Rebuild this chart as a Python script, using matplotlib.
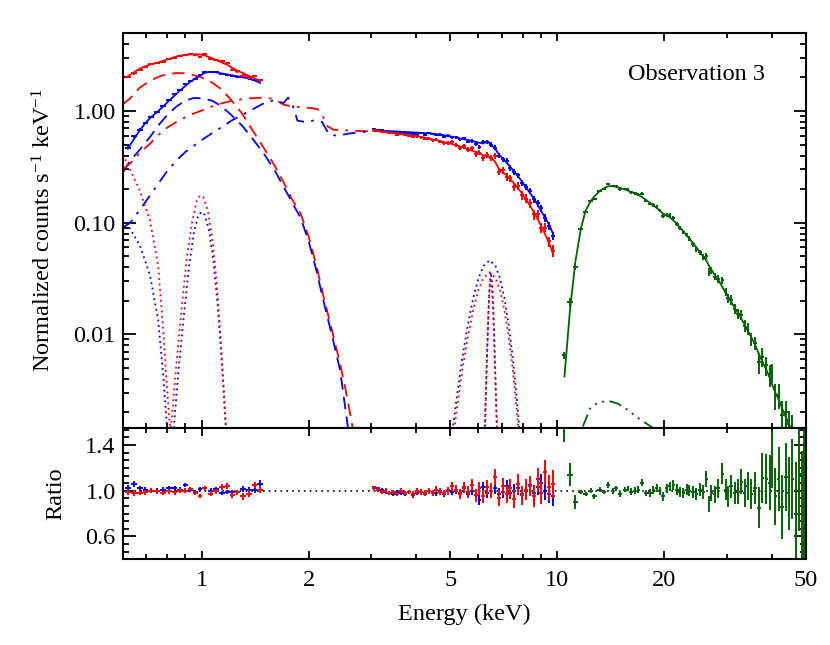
import numpy as np
import matplotlib
matplotlib.use("Agg")
import matplotlib.pyplot as plt
from matplotlib.ticker import FixedLocator, FixedFormatter, LogLocator, AutoMinorLocator, NullFormatter

plt.rcParams['font.family'] = ['Liberation Serif', 'DejaVu Serif']
plt.rcParams['mathtext.fontset'] = 'custom'
plt.rcParams['mathtext.rm'] = 'Liberation Serif'
plt.rcParams['mathtext.it'] = 'Liberation Serif:italic'

RED, BLUE, GREEN = '#ff0000', '#0000ff', '#006400'
FS = 17.5

# ---------------- data ----------------
# soft band (keV) shared by both soft-band instruments
e_soft = [0.62, 0.645, 0.67, 0.695, 0.72, 0.75, 0.78, 0.81, 0.84, 0.87, 0.90, 0.93, 0.96,
          0.99, 1.02, 1.06, 1.10, 1.14, 1.18, 1.22, 1.26, 1.31, 1.36, 1.41, 1.46]
red_model_soft = [2.05, 2.22, 2.40, 2.52, 2.62, 2.71, 2.82, 2.93, 3.05, 3.13, 3.19, 3.22, 3.23,
                  3.21, 3.15, 3.02, 2.86, 2.72, 2.60, 2.44, 2.30, 2.18, 2.06, 1.96, 1.87]
blue_model_soft = [0.46, 0.56, 0.67, 0.78, 0.88, 0.98, 1.10, 1.24, 1.38, 1.53, 1.68, 1.83, 1.96,
                   2.08, 2.20, 2.25, 2.22, 2.17, 2.13, 2.09, 2.05, 2.00, 1.95, 1.88, 1.79]
red_ratio_soft = [0.985, 0.98, 0.98, 0.985, 1.00, 0.995, 0.98, 0.995, 0.985, 1.00, 1.00, 1.015, 0.98,
                  0.955, 1.02, 0.975, 0.995, 1.03, 1.04, 0.965, 0.985, 0.95, 0.975, 1.05, 1.01]
blue_ratio_soft = [1.02, 1.06, 1.02, 1.01, 1.00, 1.00, 1.01, 1.02, 1.025, 1.01, 1.05, 1.01, 0.985,
                   1.015, 1.02, 1.00, 1.015, 0.98, 0.99, 0.985, 0.985, 1.015, 1.005, 1.01, 1.06]
red_err_soft = [0.025, 0.025, 0.02, 0.02, 0.02, 0.02, 0.02, 0.02, 0.02, 0.02, 0.02, 0.02, 0.02,
                0.02, 0.02, 0.02, 0.02, 0.025, 0.025, 0.025, 0.025, 0.03, 0.03, 0.03, 0.03]
blue_err_soft = [0.03, 0.025, 0.025, 0.02, 0.02, 0.02, 0.02, 0.02, 0.02, 0.02, 0.02, 0.02, 0.02,
                 0.02, 0.02, 0.02, 0.02, 0.02, 0.02, 0.025, 0.025, 0.025, 0.025, 0.03, 0.03]

# hard band 3-10 keV
e_hard = [3.05, 3.13, 3.21, 3.29, 3.37, 3.46, 3.55, 3.64, 3.73, 3.83,
          3.93, 4.03, 4.13, 4.24, 4.35, 4.46, 4.57, 4.69, 4.81, 4.93,
          5.06, 5.19, 5.32, 5.46, 5.60, 5.74, 5.89, 6.04, 6.19, 6.35,
          6.51, 6.68, 6.85, 7.02, 7.20, 7.38, 7.57, 7.76, 7.96, 8.16,
          8.37, 8.58, 8.80, 9.02, 9.25, 9.48, 9.72]
red_model_hard = [0.668, 0.663, 0.658, 0.652, 0.646, 0.639, 0.632, 0.625, 0.618, 0.610,
                  0.602, 0.594, 0.586, 0.577, 0.567, 0.557, 0.548, 0.538, 0.528, 0.517,
                  0.506, 0.495, 0.483, 0.470, 0.457, 0.444, 0.431, 0.417, 0.402, 0.390,
                  0.382, 0.352, 0.305, 0.285, 0.265, 0.245, 0.224, 0.203, 0.183, 0.163,
                  0.143, 0.125, 0.108, 0.092, 0.078, 0.066, 0.053]
blue_model_hard = [0.670, 0.668, 0.666, 0.664, 0.662, 0.659, 0.656, 0.653, 0.650, 0.647,
                   0.644, 0.641, 0.638, 0.635, 0.632, 0.628, 0.622, 0.615, 0.607, 0.598,
                   0.589, 0.580, 0.570, 0.560, 0.550, 0.540, 0.530, 0.520, 0.512, 0.540,
                   0.500, 0.460, 0.410, 0.375, 0.345, 0.315, 0.287, 0.260, 0.233, 0.208,
                   0.185, 0.166, 0.145, 0.126, 0.110, 0.096, 0.080]
red_ratio_hard = [1.02, 1.01, 0.99, 1.00, 0.98, 0.99, 0.97, 1.00, 0.98, 0.99,
                  0.97, 1.00, 0.99, 0.98, 1.00, 0.98, 1.01, 0.99, 0.98, 1.00,
                  1.04, 1.01, 0.97, 1.03, 0.99, 1.05, 0.96, 1.02, 0.95, 1.03,
                  1.00, 1.12, 0.94, 1.04, 0.97, 1.02, 0.93, 1.06, 0.96, 1.01,
                  1.04, 0.95, 1.10, 0.98, 1.16, 1.03, 1.06]
blue_ratio_hard = [1.03, 1.02, 1.01, 0.99, 0.98, 0.97, 0.99, 0.98, 0.97, 0.99,
                   0.96, 0.98, 0.99, 0.97, 1.00, 0.99, 0.98, 1.00, 0.97, 1.01,
                   0.99, 1.00, 0.98, 1.02, 0.97, 1.00, 0.96, 0.92, 1.03, 0.98,
                   1.00, 1.02, 0.97, 0.99, 1.04, 0.98, 1.00, 1.02, 0.97, 1.00,
                   1.05, 0.98, 1.03, 1.07, 1.00, 0.97, 0.95]
red_err_hard = [0.02, 0.02, 0.02, 0.02, 0.02, 0.02, 0.02, 0.02, 0.02, 0.02,
                0.025, 0.025, 0.025, 0.025, 0.025, 0.025, 0.03, 0.03, 0.03, 0.035,
                0.04, 0.04, 0.045, 0.05, 0.05, 0.055, 0.055, 0.06, 0.06, 0.065,
                0.065, 0.07, 0.07, 0.075, 0.075, 0.08, 0.08, 0.085, 0.085, 0.09,
                0.09, 0.095, 0.10, 0.10, 0.11, 0.11, 0.12]
blue_err_hard = [0.015, 0.015, 0.015, 0.015, 0.015, 0.015, 0.015, 0.015, 0.015, 0.015,
                 0.02, 0.02, 0.02, 0.02, 0.02, 0.02, 0.025, 0.025, 0.025, 0.025,
                 0.03, 0.03, 0.03, 0.035, 0.035, 0.04, 0.04, 0.045, 0.045, 0.045,
                 0.05, 0.05, 0.05, 0.05, 0.055, 0.055, 0.06, 0.06, 0.06, 0.065,
                 0.065, 0.07, 0.07, 0.075, 0.08, 0.08, 0.08]

# hard X-ray instrument
e_green = [10.47, 10.86, 11.24,
           11.64, 12.0, 12.4, 12.7, 13.15, 13.5, 13.9, 14.3, 14.6, 15.0,
           15.5, 15.8, 16.1, 16.5, 16.9, 17.3, 17.7, 18.2, 18.6, 19.0,
           19.4, 19.8, 20.3, 20.7, 21.2, 21.7, 22.1, 22.6, 23.1, 23.5,
           24.1, 24.6, 25.2, 25.7, 26.2, 26.7, 27.1, 27.7, 28.3, 29.1,
           29.7, 30.1, 30.8, 31.5, 32.2, 32.9, 33.6, 34.3, 35.1, 35.9,
           36.9, 37.7, 38.7, 39.5, 40.1, 41.0, 41.9, 42.8, 43.9, 44.7,
           45.8, 46.8, 47.9, 48.8, 49.5]
green_model = [0.0042, 0.017, 0.045,
               0.088, 0.128, 0.155, 0.172, 0.192, 0.203, 0.212, 0.213, 0.210, 0.205,
               0.198, 0.194, 0.189, 0.183, 0.177, 0.170, 0.161, 0.151, 0.143, 0.136,
               0.129, 0.121, 0.116, 0.112, 0.105, 0.097, 0.091, 0.084, 0.077, 0.072,
               0.065, 0.060, 0.054, 0.050, 0.046, 0.041, 0.038, 0.034, 0.031, 0.0265,
               0.0238, 0.0222, 0.0196, 0.0174, 0.0155, 0.0138, 0.0122, 0.0108, 0.0094, 0.0082,
               0.0066, 0.0057, 0.0048, 0.0041, 0.0036, 0.0030, 0.0026, 0.0022, 0.0018, 0.0016,
               0.0013, 0.0011, 0.0009, 0.0008, 0.0007]
green_ratio = [1.55, 1.14, 0.90,
               0.99, 0.97, 1.00, 0.95, 1.01, 0.99, 1.05, 1.00, 1.02, 0.97,
               1.01, 1.02, 0.99, 1.00, 1.01, 1.07, 0.98, 0.98, 1.01, 1.02,
               1.00, 0.95, 1.02, 1.04, 1.05, 1.01, 0.99, 0.98, 1.01, 1.00,
               0.99, 0.97, 1.01, 0.99, 1.10, 0.88, 0.98, 0.97, 1.02, 1.15,
               1.01, 0.95, 1.04, 0.98, 0.99, 1.08, 0.98, 1.04, 0.97, 1.02,
               0.85, 1.11, 1.10, 1.07, 1.27, 0.95, 1.10, 0.86, 1.12, 0.98,
               1.10, 0.80, 1.15, 0.75, 0.95]
green_err = [0.12, 0.10, 0.06,
             0.02, 0.02, 0.02, 0.02, 0.02, 0.02, 0.025, 0.025, 0.025, 0.025,
             0.025, 0.025, 0.03, 0.03, 0.03, 0.03, 0.03, 0.035, 0.035, 0.035,
             0.035, 0.04, 0.04, 0.04, 0.04, 0.045, 0.045, 0.045, 0.05, 0.05,
             0.05, 0.055, 0.055, 0.06, 0.07, 0.07, 0.07, 0.075, 0.08, 0.09,
             0.09, 0.09, 0.10, 0.10, 0.11, 0.11, 0.12, 0.12, 0.13, 0.14,
             0.18, 0.22, 0.22, 0.24, 0.25, 0.25, 0.28, 0.28, 0.30, 0.32,
             0.35, 0.45, 0.50, 0.60, 0.65]

# model components
e_bb_red = [0.60, 0.63, 0.67, 0.72, 0.76, 0.80, 0.85, 0.90, 0.95, 1.00, 1.07, 1.13, 1.20, 1.30,
            1.40, 1.50, 1.60, 1.70, 1.80, 1.90, 2.00, 2.10, 2.20, 2.34, 2.45, 2.55, 2.66]
bb_red = [1.15, 1.30, 1.62, 1.88, 2.04, 2.14, 2.19, 2.18, 2.10, 2.00, 1.80, 1.59, 1.30, 0.95,
          0.65, 0.46, 0.33, 0.23, 0.16, 0.12, 0.075, 0.042, 0.022, 0.010, 0.0055, 0.0030, 0.00145]
e_bb_blue = [0.60, 0.63, 0.67, 0.72, 0.76, 0.80, 0.85, 0.90, 0.95, 1.00, 1.07, 1.13, 1.20, 1.30,
             1.40, 1.50, 1.60, 1.70, 1.80, 1.90, 2.00, 2.10, 2.20, 2.34, 2.45, 2.58]
bb_blue = [0.28, 0.36, 0.45, 0.60, 0.76, 0.92, 1.10, 1.24, 1.31, 1.30, 1.24, 1.12, 0.95, 0.74,
           0.55, 0.41, 0.30, 0.21, 0.15, 0.11, 0.068, 0.038, 0.020, 0.009, 0.0048, 0.00145]

e_pl_red = [0.60, 0.63, 0.67, 0.72, 0.76, 0.80, 0.85, 0.90, 0.95, 1.00, 1.10, 1.22, 1.35, 1.50,
            1.60, 1.70, 1.80, 2.00, 2.12, 2.18, 2.26, 2.35, 2.60, 2.90, 3.10]
pl_red = [0.30, 0.34, 0.42, 0.52, 0.62, 0.71, 0.80, 0.88, 0.95, 1.01, 1.14, 1.24, 1.30, 1.32,
          1.28, 1.14, 1.10, 1.07, 1.04, 0.93, 0.73, 0.68, 0.67, 0.66, 0.66]
e_pl_blue = [0.60, 0.63, 0.67, 0.72, 0.76, 0.80, 0.85, 0.90, 1.00, 1.10, 1.22, 1.37, 1.50, 1.60,
             1.70, 1.75, 1.80, 1.86, 1.95, 2.10, 2.18, 2.28, 2.40, 2.60, 2.85, 3.10]
pl_blue = [0.09, 0.10, 0.13, 0.18, 0.23, 0.29, 0.36, 0.43, 0.55, 0.67, 0.83, 1.01, 1.18, 1.25,
           1.18, 1.32, 1.15, 0.82, 0.80, 0.83, 0.80, 0.62, 0.60, 0.63, 0.65, 0.67]

# emission lines (dotted)
e_l1_red = [0.61, 0.67, 0.716, 0.755, 0.78, 0.80, 0.815]
l1_red = [0.37, 0.195, 0.105, 0.041, 0.011, 0.0032, 0.00145]
e_l1_blue = [0.615, 0.67, 0.716, 0.755, 0.78, 0.80]
l1_blue = [0.10, 0.063, 0.034, 0.0134, 0.0043, 0.00145]
e_l2_red = [0.82, 0.85, 0.88, 0.91, 0.94, 0.97, 0.99, 1.01, 1.04, 1.07, 1.10, 1.13, 1.16, 1.17]
l2_red = [0.00145, 0.0055, 0.018, 0.050, 0.10, 0.16, 0.175, 0.17, 0.13, 0.075, 0.032, 0.010, 0.0025, 0.00145]
e_l2_blue = [0.835, 0.86, 0.89, 0.92, 0.95, 0.98, 1.00, 1.02, 1.05, 1.08, 1.11, 1.14, 1.17]
l2_blue = [0.00145, 0.0045, 0.014, 0.038, 0.080, 0.118, 0.125, 0.118, 0.085, 0.045, 0.018, 0.0055, 0.00145]
e_fe_broad = [5.05, 5.2, 5.4, 5.6, 5.8, 6.0, 6.2, 6.45, 6.7, 6.9, 7.1, 7.3, 7.5, 7.7, 7.85]
fe_broad_blue = [0.00123, 0.00256, 0.0060, 0.0121, 0.0211, 0.0317, 0.041, 0.046, 0.041, 0.0317,
                 0.0211, 0.0121, 0.0060, 0.00256, 0.00123]
fe_broad_red = [0.0009, 0.0020, 0.0047, 0.0094, 0.0165, 0.025, 0.032, 0.036, 0.032, 0.025,
                0.0165, 0.0094, 0.0047, 0.0020, 0.0009]
e_fe_narrow = [6.25, 6.30, 6.35, 6.40, 6.45, 6.50, 6.55, 6.60, 6.65, 6.70, 6.76]
fe_narrow_red = [0.00145, 0.0035, 0.0075, 0.016, 0.026, 0.032, 0.026, 0.016, 0.0075, 0.0035, 0.00145]
fe_narrow_blue = [0.0012, 0.0030, 0.0068, 0.015, 0.027, 0.036, 0.030, 0.019, 0.0090, 0.0040, 0.0016]

e_green_comp = [11.8, 12.35, 13.0, 13.9, 14.8, 15.6, 17.0, 18.6]
green_comp = [0.0015, 0.00216, 0.00245, 0.00254, 0.00240, 0.00216, 0.00175, 0.00145]

# ---------------- figure ----------------
fig = plt.figure(figsize=(8.3, 6.45), dpi=100)
ax1 = fig.add_axes([0.1478, 0.3364, 0.8233, 0.6124])
ax2 = fig.add_axes([0.1478, 0.1329, 0.8233, 0.2036], sharex=ax1)

lw = 1.3
dash = (0, (7, 4))
dashdot = (0, (7, 4, 1.5, 4))
dot = (0, (1, 2))
dashdot3 = (0, (7, 3, 1.2, 3, 1.2, 3, 1.2, 3))


def halfwidth(e):
    e = np.asarray(e)
    return np.gradient(e) / 2.0


def spectrum(ax, e, model, ratio, err, color):
    e = np.asarray(e)
    model = np.asarray(model)
    ratio = np.asarray(ratio)
    err = np.asarray(err)
    ax.errorbar(e, model * ratio, xerr=halfwidth(e), yerr=model * err, fmt='none',
                ecolor=color, elinewidth=1.4, capsize=0)
    ax.plot(e, model, color=color, lw=lw)


# model components
for e, v, c in [(e_bb_red, bb_red, RED), (e_bb_blue, bb_blue, BLUE)]:
    ax1.plot(e, v, color=c, lw=lw, ls=dash)
for e, v, c in [(e_pl_red, pl_red, RED), (e_pl_blue, pl_blue, BLUE)]:
    ax1.plot(e, v, color=c, lw=lw, ls=dashdot)
for e, v, c in [(e_l1_blue, l1_blue, BLUE), (e_l1_red, l1_red, RED),
                (e_l2_blue, l2_blue, BLUE), (e_l2_red, l2_red, RED),
                (e_fe_broad, fe_broad_blue, BLUE), (e_fe_broad, fe_broad_red, RED),
                (e_fe_narrow, fe_narrow_blue, BLUE), (e_fe_narrow, fe_narrow_red, RED)]:
    ax1.plot(e, v, color=c, lw=lw, ls=dot)
ax1.plot(e_green_comp, green_comp, color=GREEN, lw=lw, ls=dashdot3)

# data + total model
spectrum(ax1, e_soft, blue_model_soft, blue_ratio_soft, blue_err_soft, BLUE)
spectrum(ax1, e_soft, red_model_soft, red_ratio_soft, red_err_soft, RED)
spectrum(ax1, e_hard, blue_model_hard, blue_ratio_hard, blue_err_hard, BLUE)
spectrum(ax1, e_hard, red_model_hard, red_ratio_hard, red_err_hard, RED)
spectrum(ax1, e_green, green_model, green_ratio, green_err, GREEN)

ax1.text(0.94, 0.895, 'Observation 3', transform=ax1.transAxes, ha='right', va='center', fontsize=FS)

# ratio panel
ax2.axhline(1.0, color='k', lw=1.2, ls=(0, (1, 2.5)))
for e, r, er, c in [(e_soft, blue_ratio_soft, blue_err_soft, BLUE),
                    (e_soft, red_ratio_soft, red_err_soft, RED),
                    (e_hard, blue_ratio_hard, blue_err_hard, BLUE),
                    (e_hard, red_ratio_hard, red_err_hard, RED),
                    (e_green, green_ratio, green_err, GREEN)]:
    ax2.errorbar(e, r, xerr=halfwidth(e), yerr=er, fmt='none', ecolor=c, elinewidth=1.4, capsize=0)

# axes styling
ax1.set_xscale('log')
ax1.set_yscale('log')
ax1.set_xlim(0.6, 50)
ax1.set_ylim(1.45e-3, 5.0)
ax2.set_ylim(0.4, 1.55)

ax1.yaxis.set_major_locator(FixedLocator([0.01, 0.1, 1.0]))
ax1.yaxis.set_major_formatter(FixedFormatter(['0.01', '0.10', '1.00']))
ax1.yaxis.set_minor_locator(LogLocator(base=10, subs=np.arange(2, 10)))
ax1.yaxis.set_minor_formatter(NullFormatter())

ax2.xaxis.set_major_locator(FixedLocator([1, 2, 5, 10, 20, 50]))
ax2.xaxis.set_major_formatter(FixedFormatter(['1', '2', '5', '10', '20', '50']))
ax2.xaxis.set_minor_locator(LogLocator(base=10, subs=np.arange(2, 10)))
ax2.xaxis.set_minor_formatter(NullFormatter())
ax2.yaxis.set_major_locator(FixedLocator([0.6, 1.0, 1.4]))
ax2.yaxis.set_major_formatter(FixedFormatter(['0.6', '1.0', '1.4']))
ax2.yaxis.set_minor_locator(AutoMinorLocator(6))
plt.setp(ax1.get_xticklabels(), visible=False)

for ax in (ax1, ax2):
    for s in ax.spines.values():
        s.set_linewidth(1.5)
    ax.tick_params(which='both', direction='in', top=True, right=True, width=1.3, labelsize=FS)
    ax.tick_params(axis='y', which='major', length=9, pad=5)
    ax.tick_params(axis='y', which='minor', length=4.5)
    ax.tick_params(axis='x', which='major', length=6, pad=8)
    ax.tick_params(axis='x', which='minor', length=3.5)

ax1.set_ylabel('Normalized counts s$^{-1}$ keV$^{-1}$', fontsize=FS)
ax1.yaxis.set_label_coords(-0.098, 0.5)
ax2.set_ylabel('Ratio', fontsize=FS)
ax2.yaxis.set_label_coords(-0.083, 0.5)
ax2.set_xlabel('Energy (keV)', fontsize=FS, labelpad=9)

fig.savefig('out.png', dpi=100)
